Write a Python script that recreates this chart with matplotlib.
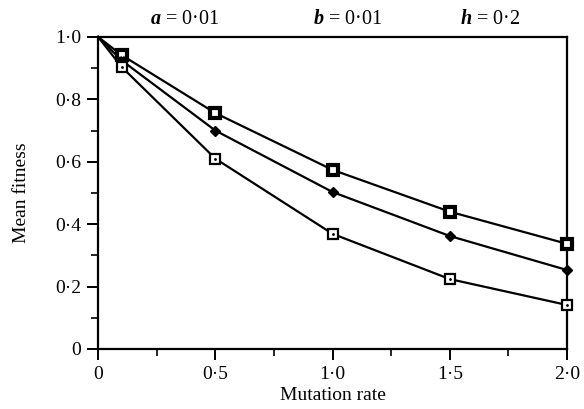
import matplotlib.pyplot as plt
from matplotlib.ticker import MultipleLocator, FuncFormatter

mutation_rate = [0, 0.1, 0.5, 1.0, 1.5, 2.0]
fitness_upper = [1.0, 0.942, 0.756, 0.574, 0.44, 0.337]
fitness_middle = [1.0, 0.925, 0.70, 0.503, 0.362, 0.253]
fitness_lower = [1.0, 0.904, 0.61, 0.369, 0.224, 0.141]

params = [r"$\mathbfit{a}$ = 0·01", r"$\mathbfit{b}$ = 0·01", r"$\mathbfit{h}$ = 0·2"]

plt.rcParams['font.family'] = ['Liberation Serif', 'DejaVu Serif']
plt.rcParams['mathtext.fontset'] = 'custom'
plt.rcParams['mathtext.bfit'] = 'Liberation Serif:italic:bold'

fig = plt.figure(figsize=(5.84, 4.09), dpi=100)
ax = fig.add_axes([0.168, 0.1467, 0.803, 0.763])

marks = slice(1, None)
ax.plot(mutation_rate, fitness_upper, color='black', lw=1.6, marker='s', ms=7.5,
        mfc='white', mec='black', mew=3.0, markevery=marks, clip_on=False, zorder=3)
ax.plot(mutation_rate, fitness_middle, color='black', lw=1.6, marker='D', ms=5,
        mfc='black', mec='black', markevery=marks, clip_on=False, zorder=3)
ax.plot(mutation_rate, fitness_lower, color='black', lw=1.6, marker='s', ms=7,
        mfc='white', mec='black', mew=1.6, markevery=marks, clip_on=False, zorder=3)
# little dot in the middle of the square markers
ax.plot(mutation_rate[1:], fitness_upper[1:], ls='none', marker='.', ms=2,
        color='white', clip_on=False, zorder=4)
ax.plot(mutation_rate[1:], fitness_lower[1:], ls='none', marker='.', ms=2,
        color='black', clip_on=False, zorder=4)

ax.set_xlim(0, 2.0)
ax.set_ylim(0, 1.0)

dot_fmt = FuncFormatter(lambda v, p: '0' if abs(v) < 1e-9 else f'{v:.1f}'.replace('.', '·'))
ax.xaxis.set_major_locator(MultipleLocator(0.5))
ax.xaxis.set_minor_locator(MultipleLocator(0.25))
ax.yaxis.set_major_locator(MultipleLocator(0.2))
ax.yaxis.set_minor_locator(MultipleLocator(0.1))
ax.xaxis.set_major_formatter(dot_fmt)
ax.yaxis.set_major_formatter(dot_fmt)

ax.tick_params(which='major', direction='out', length=8, width=1.4, labelsize=14, pad=4)
ax.tick_params(which='minor', direction='out', length=5, width=1.2)
for s in ax.spines.values():
    s.set_linewidth(1.6)

ax.set_xlabel('Mutation rate', fontsize=14, labelpad=3)
ax.set_ylabel('Mean fitness', fontsize=14, labelpad=18)

for xp, txt in zip([0.22, 0.917, 1.544], params):
    ax.text(xp, 1.025, txt, fontsize=14.5, ha='left', va='bottom')

fig.savefig('out.png', dpi=100)
